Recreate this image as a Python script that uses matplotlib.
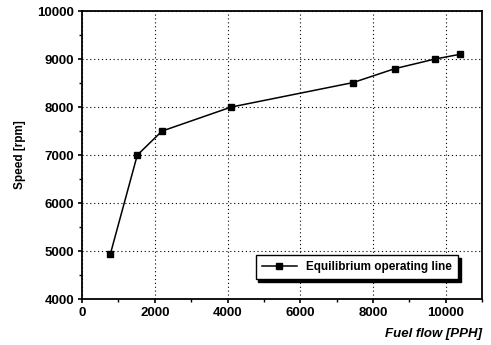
import matplotlib.pyplot as plt
from matplotlib.ticker import MultipleLocator

plt.rcParams['font.family'] = ['Liberation Sans', 'DejaVu Sans']
plt.rcParams['font.weight'] = 'bold'

# fuel flow [PPH] and speed [rpm]
fuel_flow = [780, 1520, 2200, 4100, 7450, 8600, 9700, 10400]
speed = [4940, 7000, 7500, 8000, 8510, 8800, 9000, 9100]

fig = plt.figure(figsize=(4.91, 3.45), dpi=100)
ax = fig.add_axes([0.167, 0.133, 0.815, 0.835])

ax.plot(fuel_flow, speed, color='black', lw=1.1, marker='s', ms=5,
        label='Equilibrium operating line')

ax.set_xlim(0, 11000)
ax.set_ylim(4000, 10000)
ax.xaxis.set_major_locator(MultipleLocator(2000))
ax.xaxis.set_minor_locator(MultipleLocator(1000))
ax.yaxis.set_major_locator(MultipleLocator(1000))
ax.yaxis.set_minor_locator(MultipleLocator(500))
ax.tick_params(which='major', direction='out', length=3, width=1.2,
               labelsize=9.5, pad=2.5)
ax.tick_params(which='minor', direction='out', length=2, width=1)
for lab in ax.get_xticklabels() + ax.get_yticklabels():
    lab.set_fontweight('bold')

ax.grid(True, which='major', color='black', linestyle=(0, (1, 2.5)), lw=0.8)
for s in ax.spines.values():
    s.set_linewidth(1.3)

ax.set_ylabel('Speed [rpm]', fontsize=8.5, fontweight='bold', labelpad=8)
ax.set_xlabel('Fuel flow [PPH]', fontsize=9.5, fontweight='bold', style='italic')
ax.xaxis.set_label_coords(1.0, -0.1)
ax.xaxis.label.set_horizontalalignment('right')

leg = ax.legend(loc='lower right', bbox_to_anchor=(0.955, 0.05), fontsize=8.5,
                frameon=True, fancybox=False, edgecolor='black',
                shadow={'color': 'black', 'alpha': 1},
                handlelength=3, borderpad=0.5)
leg.get_frame().set_linewidth(1.0)

fig.savefig('out.png', dpi=100)
